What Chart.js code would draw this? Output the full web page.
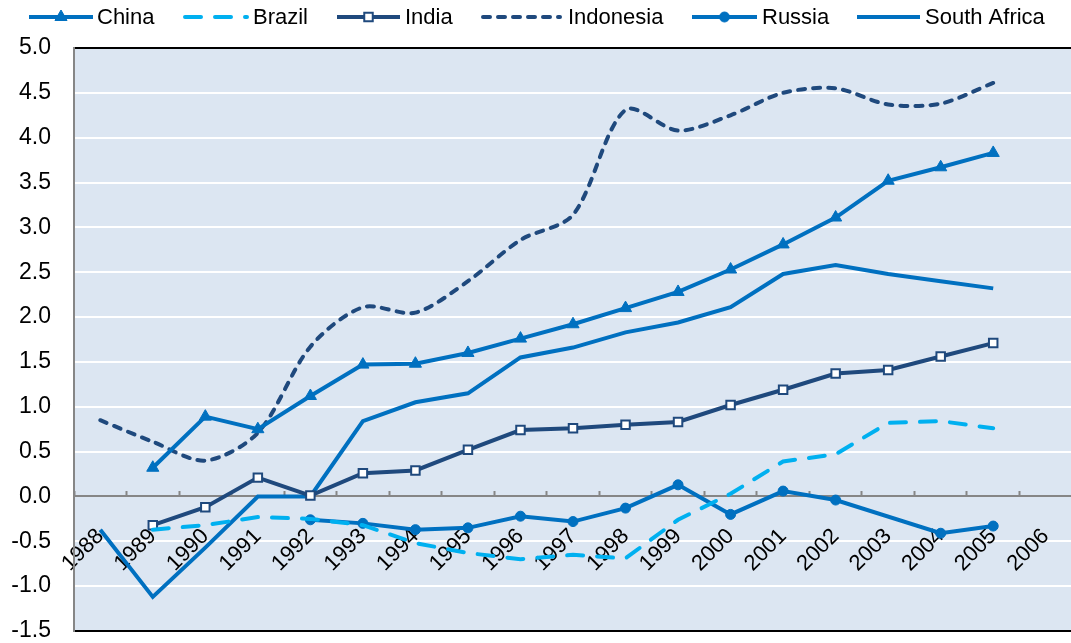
<!DOCTYPE html>
<html>
<head>
<meta charset="utf-8">
<script src="https://cdn.jsdelivr.net/npm/chart.js@4/dist/chart.umd.min.js"></script>
<style>
  html, body { margin: 0; padding: 0; background: #fff; overflow: hidden; }
  #wrap { width: 1080px; height: 643px; }
</style>
</head>
<body>
<div id="wrap"><canvas id="chart"></canvas></div>
<script>
const years = ['1988', '1989', '1990', '1991', '1992', '1993', '1994', '1995', '1996', '1997',
               '1998', '1999', '2000', '2001', '2002', '2003', '2004', '2005', '2006'];

const china       = [null, 0.32, 0.89, 0.75, 1.12, 1.47, 1.48, 1.60, 1.76, 1.92, 2.10, 2.28, 2.53, 2.81, 3.11, 3.52, 3.67, 3.83, null];
const brazil      = [null, -0.37, -0.32, -0.23, -0.25, -0.32, -0.52, -0.63, -0.70, -0.65, -0.69, -0.26, 0.03, 0.39, 0.47, 0.82, 0.84, 0.76, null];
const india       = [null, -0.32, -0.12, 0.21, 0.01, 0.26, 0.29, 0.52, 0.74, 0.76, 0.80, 0.83, 1.02, 1.19, 1.37, 1.41, 1.56, 1.71, null];
const indonesia   = [0.85, 0.61, 0.40, 0.71, 1.67, 2.11, 2.05, 2.40, 2.86, 3.14, 4.31, 4.08, 4.25, 4.50, 4.55, 4.37, 4.38, 4.61, null];
const russia      = [null, null, null, null, -0.26, -0.30, -0.37, -0.35, -0.22, -0.28, -0.13, 0.13, -0.20, 0.06, -0.04, null, -0.41, -0.33, null];
const southAfrica = [-0.37, -1.12, -0.57, 0.00, 0.00, 0.84, 1.05, 1.15, 1.55, 1.66, 1.83, 1.94, 2.11, 2.48, 2.58, 2.48, 2.40, 2.32, null];

const yTicks = [5.0, 4.5, 4.0, 3.5, 3.0, 2.5, 2.0, 1.5, 1.0, 0.5, 0.0, -0.5, -1.0, -1.5];

const FONT = '"Liberation Sans", Arial, sans-serif';
const MID = '#0070c0', LIGHT = '#00b0f0', NAVY = '#1f497d';

// plot background
const plotBg = {
  id: 'plotBg',
  beforeDraw(chart) {
    const { ctx, chartArea: a } = chart;
    ctx.save();
    ctx.fillStyle = '#dce6f2';
    ctx.fillRect(a.left, a.top, a.right - a.left, a.bottom - a.top);
    ctx.restore();
  }
};

// legend row across the top: line sample with its marker, then the name
const legendRow = {
  id: 'legendRow',
  afterDraw(chart) {
    const { ctx } = chart;
    const slots = [[29, 93, 97], [185, 247, 253], [337, 400, 405], [483, 560, 568], [692, 757, 762], [857, 920, 925]];
    const y = 17;
    ctx.save();
    chart.data.datasets.forEach((ds, i) => {
      const [x0, x1, tx] = slots[i];
      ctx.strokeStyle = ds.borderColor;
      ctx.lineWidth = ds.borderWidth;
      ctx.lineCap = ds.borderDash ? 'round' : 'butt';
      ctx.setLineDash(ds.borderDash || []);
      ctx.beginPath();
      ctx.moveTo(x0, y);
      ctx.lineTo(x1, y);
      ctx.stroke();
      ctx.setLineDash([]);
      if (ds.pointRadius > 0) {
        ctx.fillStyle = ds.pointBackgroundColor;
        ctx.strokeStyle = ds.borderColor;
        ctx.lineWidth = ds.pointBorderWidth || 1;
        Chart.helpers.drawPoint(ctx, { pointStyle: ds.pointStyle, radius: ds.pointRadius, borderWidth: ds.pointBorderWidth || 1 }, (x0 + x1) / 2, y);
      }
      ctx.fillStyle = '#000';
      ctx.font = '22px ' + FONT;
      ctx.textBaseline = 'middle';
      ctx.textAlign = 'left';
      ctx.fillText(ds.label, tx, y + 1);
    });
    ctx.restore();
  }
};

new Chart(document.getElementById('chart'), {
  type: 'line',
  data: {
    labels: years,
    datasets: [
      { label: 'China', data: china, borderColor: MID, borderWidth: 4,
        pointStyle: 'triangle', pointRadius: 7, pointBackgroundColor: MID, pointBorderColor: MID, pointBorderWidth: 1 },
      { label: 'Brazil', data: brazil, borderColor: LIGHT, borderWidth: 4, borderDash: [16, 14],
        borderCapStyle: 'round', pointRadius: 0 },
      { label: 'India', data: india, borderColor: NAVY, borderWidth: 4,
        pointStyle: 'rect', pointRadius: 6, pointBackgroundColor: '#fff', pointBorderColor: NAVY, pointBorderWidth: 2 },
      { label: 'Indonesia', data: indonesia, borderColor: NAVY, borderWidth: 4, borderDash: [7, 8],
        borderCapStyle: 'round', pointRadius: 0, tension: 0.3 },
      { label: 'Russia', data: russia, borderColor: MID, borderWidth: 4, spanGaps: true,
        pointStyle: 'circle', pointRadius: 5, pointBackgroundColor: MID, pointBorderColor: MID, pointBorderWidth: 1 },
      { label: 'South Africa', data: southAfrica, borderColor: MID, borderWidth: 4, pointRadius: 0 }
    ]
  },
  options: {
    responsive: true,
    maintainAspectRatio: false,
    animation: false,
    layout: { padding: { top: 48, right: 0, bottom: 12, left: 0 } },
    plugins: { legend: { display: false }, tooltip: { enabled: false } },
    scales: {
      x: {
        type: 'category',
        position: { y: 0 },
        offset: true,
        afterFit: (s) => { s.height = 0; s.paddingLeft = 0; s.paddingRight = 0; s.paddingTop = 0; s.paddingBottom = 0; },
        grid: { offset: true, drawOnChartArea: false, drawTicks: true, tickLength: -6, tickWidth: 2, tickColor: '#868686' },
        border: { color: '#868686', width: 2 },
        ticks: { autoSkip: false, minRotation: 45, maxRotation: 45, padding: 33, color: '#000', font: { family: FONT, size: 22 } }
      },
      y: {
        min: -1.5,
        max: 5,
        afterBuildTicks: (s) => { s.ticks = yTicks.map(v => ({ value: v })); },
        afterFit: (s) => { s.width = 74; s.paddingTop = 0; s.paddingBottom = 0; },
        ticks: { padding: 23, color: '#000', font: { family: FONT, size: 23 }, callback: (v) => Number(v).toFixed(1) },
        grid: {
          drawTicks: false,
          lineWidth: 2,
          color: (c) => (c.tick && (c.tick.value === 5 || c.tick.value === -1.5)) ? '#000' : '#fff'
        },
        border: { color: '#868686', width: 2 }
      }
    }
  },
  plugins: [plotBg, legendRow]
});
</script>
</body>
</html>
